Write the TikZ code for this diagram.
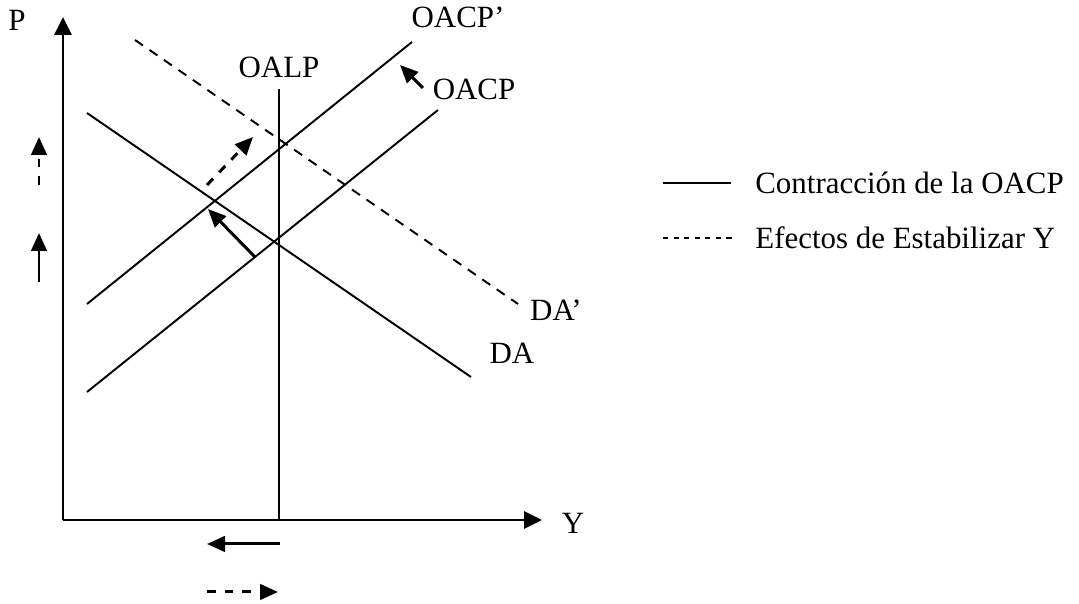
\documentclass[tikz,border=0pt]{standalone}
\usepackage{fontspec}
\setmainfont{Liberation Serif}
\usepackage{tikz}
\usetikzlibrary{arrows.meta, positioning, calc}

\begin{document}
\begin{tikzpicture}[
    axis/.style={line width=1.6pt, -{Triangle[length=0.36cm, width=0.34cm]}},
    curve/.style={line width=1.1pt},
    shifted/.style={line width=1.1pt, dash pattern=on 5.5pt off 4.5pt},
    move/.style={line width=1.7pt, -{Triangle[length=0.36cm, width=0.31cm]}},
    movedash/.style={move, dash pattern=on 5pt off 5pt},
    lbl/.style={font=\fontsize{17.6}{20}\selectfont, inner sep=0pt}
]
    \useasboundingbox (-1.26,-1.68) rectangle (20.32,10.4);

    % axes
    \coordinate (origin) at (0,0);
    \draw[axis] (origin) -- (0,10.06);
    \draw[axis] (origin) -- (9.58,0);
    \node[lbl] (p) at (-0.92,10.0) {P};
    \node[lbl] (y) at (10.2,-0.06) {Y};

    % curves
    \coordinate (oalp0) at (4.32,0);
    \coordinate (oalp1) at (4.32,8.62);
    \coordinate (da0) at (0.48,8.14);
    \coordinate (da1) at (8.16,2.86);
    \coordinate (dap0) at (1.44,9.6);
    \coordinate (dap1) at (9.1,4.32);
    \coordinate (oacp0) at (0.48,2.56);
    \coordinate (oacp1) at (7.5,8.2);
    \coordinate (oacpp0) at (0.48,4.32);
    \coordinate (oacpp1) at (6.98,9.56);

    \draw[curve] (oalp0) -- (oalp1);
    \draw[curve] (da0) -- (da1);
    \draw[shifted] (dap0) -- (dap1);
    \draw[curve] (oacp0) -- (oacp1);
    \draw[curve] (oacpp0) -- (oacpp1);

    \node[lbl] (oalp) at (4.32,9.06) {OALP};
    \node[lbl] (da) at (8.98,3.34) {DA};
    \node[lbl] (dap) at (9.86,4.2) {DA'};
    \node[lbl] (oacp) at (8.22,8.62) {OACP};
    \node[lbl] (oacpp) at (7.9,10.06) {OACP'};

    % movements
    \draw[move] (7.2,8.64) -- (6.74,9.1);
    \draw[move] (3.84,5.26) -- (2.9,6.22);
    \draw[movedash] (2.88,6.7) -- (3.8,7.66);
    \draw[move] (-0.48,4.76) -- (-0.48,5.74);
    \draw[movedash] (-0.48,6.7) -- (-0.48,7.66);
    \draw[move] (4.34,-0.48) -- (2.88,-0.48);
    \draw[movedash] (2.88,-1.44) -- (4.3,-1.44);

    % legend
    \coordinate (leg1a) at (12.0,6.74);
    \coordinate (leg1b) at (13.36,6.74);
    \coordinate (leg2a) at (12.0,5.64);
    \coordinate (leg2b) at (13.44,5.64);
    \draw[curve] (leg1a) -- (leg1b);
    \draw[line width=0.9pt, dash pattern=on 3pt off 3pt] (leg2a) -- (leg2b);
    \node[lbl, anchor=west] (contr) at (13.84,6.74) {Contracción de la OACP};
    \node[lbl, anchor=west] (estab) at (13.84,5.64) {Efectos de Estabilizar Y};

\end{tikzpicture}
\end{document}
